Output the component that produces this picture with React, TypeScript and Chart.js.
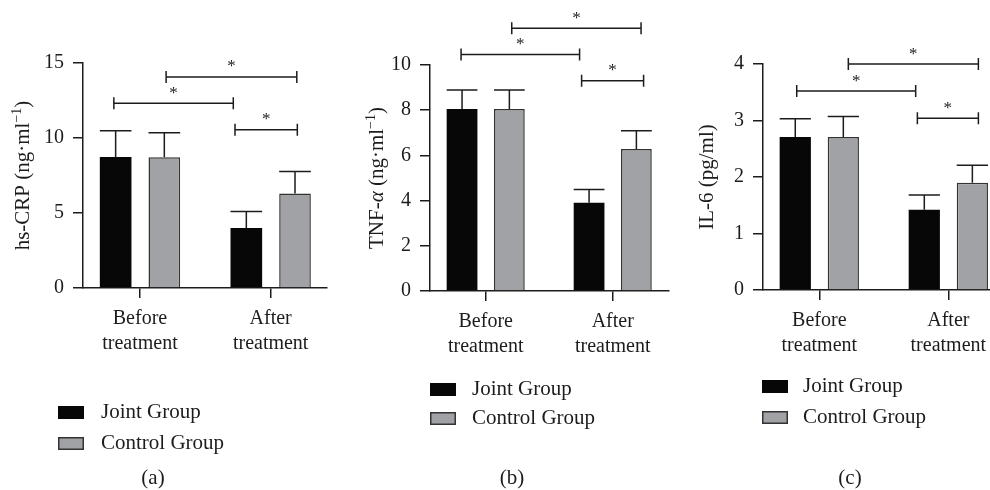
import React, { useEffect, useRef } from 'react';
import { Chart, registerables } from 'chart.js';

Chart.register(...registerables);

// ---------- data ----------
const categories = ['Before treatment', 'After treatment'];
const categoryLines = [['Before', 'treatment'], ['After', 'treatment']];
const seriesNames = ['Joint Group', 'Control Group'];

const crpJoint = [8.73, 4.0];
const crpJointSD = [1.76, 1.1];
const crpControl = [8.71, 6.3];
const crpControlSD = [1.64, 1.47];
const crpTicks = [0, 5, 10, 15];
// significance brackets: [from x, to x, level] in axis units
const crpBrackets = [[1.2, 2.2, 14.07], [0.8, 1.714, 12.31], [1.727, 2.204, 10.55]];
// axis title pieces: [text, style] n = normal, i = italic, s = superscript
const crpTitle = [['hs-CRP (ng·ml', 'n'], ['−1', 's'], [')', 'n']];

const tnfJoint = [8.05, 3.9];
const tnfJointSD = [0.84, 0.59];
const tnfControl = [8.05, 6.28];
const tnfControlSD = [0.84, 0.81];
const tnfTicks = [0, 2, 4, 6, 8, 10];
const tnfBrackets = [[1.205, 2.223, 11.63], [0.806, 1.739, 10.47], [1.755, 2.243, 9.3]];
const tnfTitle = [['TNF-', 'n'], ['α', 'i'], [' (ng·ml', 'n'], ['−1', 's'], [')', 'n']];

const il6Joint = [2.71, 1.42];
const il6JointSD = [0.32, 0.26];
const il6Control = [2.71, 1.9];
const il6ControlSD = [0.36, 0.31];
const il6Ticks = [0, 1, 2, 3, 4];
const il6Brackets = [[1.225, 2.233, 4.0], [0.825, 1.747, 3.52], [1.76, 2.233, 3.04]];
const il6Title = [['IL-6 (pg/ml)', 'n']];

// ---------- styles ----------
const FAMILY = '"Liberation Serif", "DejaVu Serif", serif';
const INK = '#1c1c1c';
const BLACK = '#070707';
const GREY = '#a1a2a5';
const GREY_EDGE = '#333333';

type PanelCfg = {
  title: string[][];
  joint: number[];
  jointSD: number[];
  control: number[];
  controlSD: number[];
  ticks: number[];
  brackets: number[][];
  caption: string;
  layout: {
    padLeft: number; padRight: number; padTop: number;
    yWidth: number; xHeight: number; titleX: number;
    xMin: number; xMax: number;
    legendX: number; legendY1: number; legendY2: number; legendTextX: number;
    captionX: number; captionY: number;
  };
};

const panels: PanelCfg[] = [
  {
    title: crpTitle, joint: crpJoint, jointSD: crpJointSD, control: crpControl, controlSD: crpControlSD,
    ticks: crpTicks, brackets: crpBrackets, caption: '(a)',
    layout: {
      padLeft: 0, padRight: 663, padTop: 63, yWidth: 83, xHeight: 202, titleX: 23,
      xMin: 0.564, xMax: 2.431,
      legendX: 58, legendY1: 406, legendY2: 437, legendTextX: 101,
      captionX: 153, captionY: 478,
    },
  },
  {
    title: tnfTitle, joint: tnfJoint, jointSD: tnfJointSD, control: tnfControl, controlSD: tnfControlSD,
    ticks: tnfTicks, brackets: tnfBrackets, caption: '(b)',
    layout: {
      padLeft: 330, padRight: 321, padTop: 65, yWidth: 100, xHeight: 199, titleX: 377,
      xMin: 0.5614, xMax: 2.443,
      legendX: 430, legendY1: 383, legendY2: 412, legendTextX: 472,
      captionX: 512, captionY: 478,
    },
  },
  {
    title: il6Title, joint: il6Joint, jointSD: il6JointSD, control: il6Control, controlSD: il6ControlSD,
    ticks: il6Ticks, brackets: il6Brackets, caption: '(c)',
    layout: {
      padLeft: 660, padRight: 0, padTop: 64, yWidth: 103, xHeight: 200, titleX: 707,
      xMin: 0.5636, xMax: 2.323,
      legendX: 762, legendY1: 380, legendY2: 411, legendTextX: 803,
      captionX: 850, captionY: 478,
    },
  },
];

function segFont(style: string) {
  if (style === 'i') return 'italic 21px ' + FAMILY;
  if (style === 's') return '14px ' + FAMILY;
  return '21px ' + FAMILY;
}

function extrasPlugin(p: PanelCfg) {
  return {
    id: 'extras',
    afterDatasetsDraw(chart: any) {
      const ctx = chart.ctx as CanvasRenderingContext2D;
      const xs = chart.scales.x;
      const ys = chart.scales.y;
      ctx.save();
      ctx.strokeStyle = INK;
      ctx.lineWidth = 1.5;
      // error bars (upper only)
      chart.data.datasets.forEach((ds: any, di: number) => {
        const meta = chart.getDatasetMeta(di);
        meta.data.forEach((bar: any, j: number) => {
          const { x, y, width } = bar.getProps(['x', 'y', 'width'], true);
          const top = ys.getPixelForValue(ds.data[j].y + ds.errors[j]);
          ctx.beginPath();
          ctx.moveTo(x, y);
          ctx.lineTo(x, top);
          ctx.moveTo(x - width / 2, top);
          ctx.lineTo(x + width / 2, top);
          ctx.stroke();
        });
      });
      // significance brackets
      ctx.fillStyle = INK;
      ctx.font = '17px ' + FAMILY;
      ctx.textAlign = 'center';
      ctx.textBaseline = 'alphabetic';
      p.brackets.forEach(([a, b, lvl]) => {
        const x1 = xs.getPixelForValue(a);
        const x2 = xs.getPixelForValue(b);
        const yy = ys.getPixelForValue(lvl);
        ctx.beginPath();
        ctx.moveTo(x1, yy);
        ctx.lineTo(x2, yy);
        ctx.moveTo(x1, yy - 6);
        ctx.lineTo(x1, yy + 6);
        ctx.moveTo(x2, yy - 6);
        ctx.lineTo(x2, yy + 6);
        ctx.stroke();
        ctx.fillText('*', (x1 + x2) / 2, yy - 5.5);
      });
      ctx.restore();
    },
    afterDraw(chart: any) {
      const ctx = chart.ctx as CanvasRenderingContext2D;
      const L = p.layout;
      const area = chart.chartArea;
      ctx.save();
      // y-axis title with italic / superscript pieces
      ctx.translate(L.titleX, (area.top + area.bottom) / 2);
      ctx.rotate(-Math.PI / 2);
      ctx.fillStyle = INK;
      ctx.textBaseline = 'middle';
      ctx.textAlign = 'left';
      let total = 0;
      p.title.forEach(([t, s]) => {
        ctx.font = segFont(s);
        total += ctx.measureText(t).width;
      });
      let cx = -total / 2;
      p.title.forEach(([t, s]) => {
        ctx.font = segFont(s);
        ctx.fillText(t, cx, s === 's' ? -6 : 0);
        cx += ctx.measureText(t).width;
      });
      ctx.restore();

      ctx.save();
      const rows = [L.legendY1, L.legendY2];
      chart.data.datasets.forEach((ds: any, di: number) => {
        const y0 = rows[di];
        ctx.fillStyle = ds.backgroundColor;
        ctx.fillRect(L.legendX, y0, 26, 13);
        if (ds.borderWidth > 0) {
          ctx.strokeStyle = ds.borderColor;
          ctx.lineWidth = 1.5;
          ctx.strokeRect(L.legendX + 0.75, y0 + 0.75, 24.5, 11.5);
        }
        ctx.fillStyle = INK;
        ctx.font = '21px ' + FAMILY;
        ctx.textAlign = 'left';
        ctx.textBaseline = 'middle';
        ctx.fillText(ds.label, L.legendTextX, y0 + 6.5);
      });
      ctx.fillStyle = INK;
      ctx.textAlign = 'center';
      ctx.textBaseline = 'middle';
      ctx.font = '21px ' + FAMILY;
      ctx.fillText(p.caption, L.captionX, L.captionY);
      ctx.restore();
    },
  };
}

function buildConfig(p: PanelCfg): any {
  const L = p.layout;
  const tickFont = { family: FAMILY, size: 20, lineHeight: 1.25 };
  return {
    type: 'bar',
    data: {
      datasets: [
        {
          label: seriesNames[0],
          data: p.joint.map((v, i) => ({ x: i + 1, y: v })),
          errors: p.jointSD,
          backgroundColor: BLACK,
          borderColor: BLACK,
          borderWidth: 0,
        },
        {
          label: seriesNames[1],
          data: p.control.map((v, i) => ({ x: i + 1, y: v })),
          errors: p.controlSD,
          backgroundColor: GREY,
          borderColor: GREY_EDGE,
          borderWidth: 1.5,
        },
      ],
    },
    options: {
      responsive: false,
      animation: false,
      events: [],
      layout: { padding: { left: L.padLeft, right: L.padRight, top: L.padTop, bottom: 0 } },
      datasets: { bar: { categoryPercentage: 0.745, barPercentage: 0.65 } },
      plugins: { legend: { display: false }, tooltip: { enabled: false }, title: { display: false } },
      scales: {
        x: {
          type: 'linear',
          offset: false,
          min: L.xMin,
          max: L.xMax,
          afterBuildTicks: (s: any) => {
            s.ticks = categories.map((_, i) => ({ value: i + 1 }));
          },
          afterFit: (s: any) => {
            s.height = L.xHeight;
            s.paddingLeft = 0;
            s.paddingRight = 0;
          },
          ticks: {
            autoSkip: false,
            maxRotation: 0,
            minRotation: 0,
            padding: 8,
            color: INK,
            font: tickFont,
            callback: (v: number) => categoryLines[Math.round(v) - 1] ?? '',
          },
          grid: { display: true, drawOnChartArea: false, drawTicks: true, tickLength: 10, color: INK, lineWidth: 1.5, offset: false },
          border: { display: true, color: INK, width: 1.5 },
        },
        y: {
          min: p.ticks[0],
          max: p.ticks[p.ticks.length - 1],
          afterBuildTicks: (s: any) => {
            s.ticks = p.ticks.map((t) => ({ value: t }));
          },
          afterFit: (s: any) => {
            s.width = L.yWidth;
            s.paddingTop = 0;
            s.paddingBottom = 0;
          },
          ticks: { padding: 9, color: INK, font: { family: FAMILY, size: 20 } },
          grid: { display: true, drawOnChartArea: false, drawTicks: true, tickLength: 10, color: INK, lineWidth: 1.5 },
          border: { display: true, color: INK, width: 1.5 },
          title: { display: false },
        },
      },
    },
    plugins: [extrasPlugin(p)],
  };
}

function Panel({ cfg }: { cfg: PanelCfg }) {
  const ref = useRef<HTMLCanvasElement>(null);
  useEffect(() => {
    if (!ref.current) return;
    const chart = new Chart(ref.current, buildConfig(cfg));
    return () => chart.destroy();
  }, [cfg]);
  return (
    <canvas
      ref={ref}
      width={990}
      height={490}
      style={{ position: 'absolute', left: 0, top: 0, width: 990, height: 490 }}
    />
  );
}

export default function App() {
  return (
    <div style={{ position: 'fixed', left: 0, top: 0, width: 990, height: 490, background: '#ffffff', overflow: 'hidden' }}>
      {panels.map((p) => (
        <Panel key={p.caption} cfg={p} />
      ))}
    </div>
  );
}
